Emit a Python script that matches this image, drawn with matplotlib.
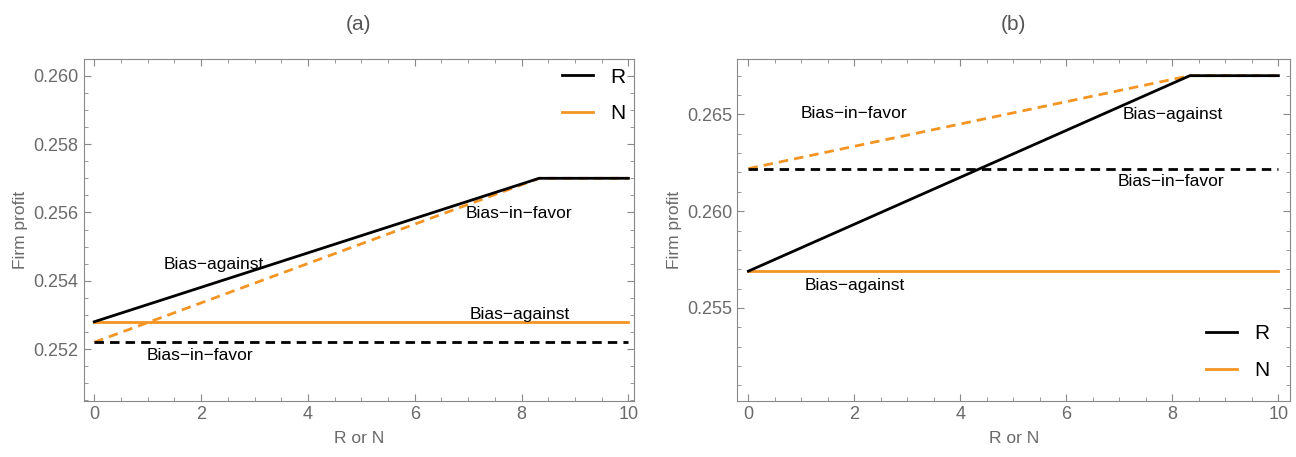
import matplotlib
matplotlib.use("Agg")
import matplotlib.pyplot as plt
from matplotlib.ticker import MultipleLocator, FormatStrFormatter

plt.rcParams['font.family'] = ['Liberation Sans', 'DejaVu Sans']

# panel (a)
xa = [0, 8.33, 10]
a_R_against = [0.2528, 0.2570, 0.2570]
a_N_against = [0.2528, 0.2528, 0.2528]
a_R_favor = [0.2522, 0.2522, 0.2522]
a_N_favor = [0.2522, 0.2570, 0.2570]

# panel (b)
xb = [0, 8.33, 10]
b_R_against = [0.2569, 0.2670, 0.2670]
b_N_against = [0.2569, 0.2569, 0.2569]
b_R_favor = [0.2622, 0.2622, 0.2622]
b_N_favor = [0.2622, 0.2670, 0.2670]

orange = '#F39423'
gray = '#6a6a6a'

fig = plt.figure(figsize=(12.96, 4.57), dpi=100)
ax1 = fig.add_axes([0.0645, 0.1225, 0.4245, 0.7475])
ax2 = fig.add_axes([0.5689, 0.1225, 0.4265, 0.7475])

lw = 2.0
dash = (0, (3.4, 2.2))
fs = 12.5

# (a)
ax1.plot(xa, a_N_against, color=orange, lw=lw, label='N')
ax1.plot(xa, a_N_favor, color=orange, lw=lw, linestyle=dash)
ax1.plot(xa, a_R_favor, color='black', lw=lw, linestyle=dash)
ax1.plot(xa, a_R_against, color='black', lw=lw, label='R')
ax1.text(2.24, 0.25449, 'Bias−against', ha='center', va='center', fontsize=fs)
ax1.text(7.95, 0.25598, 'Bias−in−favor', ha='center', va='center', fontsize=fs)
ax1.text(7.97, 0.2530, 'Bias−against', ha='center', va='center', fontsize=fs)
ax1.text(1.98, 0.2518, 'Bias−in−favor', ha='center', va='center', fontsize=fs)
ax1.set_xlim(-0.2, 10.1)
ax1.set_ylim(0.25048, 0.26048)
ax1.yaxis.set_major_locator(MultipleLocator(0.002))
ax1.yaxis.set_minor_locator(MultipleLocator(0.0005))
ax1.yaxis.set_major_formatter(FormatStrFormatter('%.3f'))

# (b)
ax2.plot(xb, b_N_against, color=orange, lw=lw, label='N')
ax2.plot(xb, b_N_favor, color=orange, lw=lw, linestyle=dash)
ax2.plot(xb, b_R_favor, color='black', lw=lw, linestyle=dash)
ax2.plot(xb, b_R_against, color='black', lw=lw, label='R')
ax2.text(1.99, 0.26502, 'Bias−in−favor', ha='center', va='center', fontsize=fs)
ax2.text(8.0, 0.26500, 'Bias−against', ha='center', va='center', fontsize=fs)
ax2.text(7.98, 0.26151, 'Bias−in−favor', ha='center', va='center', fontsize=fs)
ax2.text(2.0, 0.25615, 'Bias−against', ha='center', va='center', fontsize=fs)
ax2.set_xlim(-0.21, 10.22)
ax2.set_ylim(0.25019, 0.26784)
ax2.yaxis.set_major_locator(MultipleLocator(0.005))
ax2.yaxis.set_minor_locator(MultipleLocator(0.001))
ax2.yaxis.set_major_formatter(FormatStrFormatter('%.3f'))

for ax, title in [(ax1, '(a)'), (ax2, '(b)')]:
    ax.xaxis.set_major_locator(MultipleLocator(2))
    ax.xaxis.set_minor_locator(MultipleLocator(0.5))
    ax.tick_params(which='both', direction='in', top=True, right=True,
                   colors='#888888', labelcolor=gray, labelsize=13)
    ax.tick_params(which='major', length=5)
    ax.tick_params(which='minor', length=3)
    for s in ax.spines.values():
        s.set_color('#888888')
    ax.set_xlabel('R or N', color=gray, fontsize=12.5, labelpad=6)
    ax.set_ylabel('Firm profit', color=gray, fontsize=12.5)
    ax.set_title(title, color='#555555', fontsize=15, pad=21)

h1, l1 = ax1.get_legend_handles_labels()
ax1.legend(h1[::-1], l1[::-1], loc='upper right', frameon=False, fontsize=15,
           handlelength=1.5, labelspacing=0.85, borderaxespad=0.0)
h2, l2 = ax2.get_legend_handles_labels()
ax2.legend(h2[::-1], l2[::-1], loc='lower right', frameon=False, fontsize=15,
           handlelength=1.5, labelspacing=0.85, borderaxespad=0.6)

fig.savefig('out.png', dpi=100)
